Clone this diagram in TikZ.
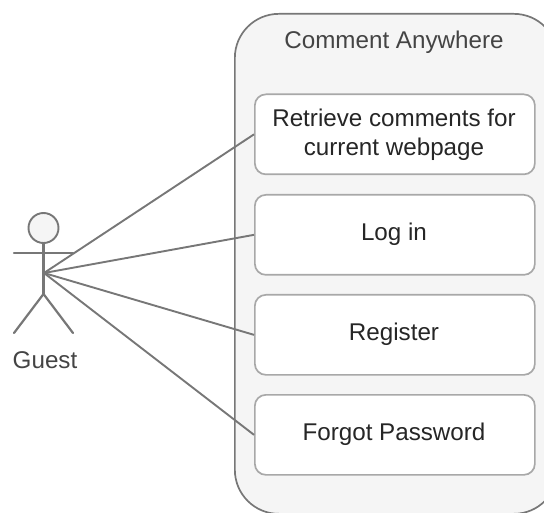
\documentclass[tikz,border=0pt]{standalone}
\usepackage{fontspec}
\setmainfont{Liberation Sans}
\definecolor{linegray}{HTML}{777777}
\definecolor{fillgray}{HTML}{F5F5F5}
\definecolor{softtext}{HTML}{444444}
\definecolor{boxline}{HTML}{A8A8A8}
\tikzset{
  container/.style={draw=linegray,line width=1.7pt,fill=fillgray,rounded corners=44pt,minimum width=323pt,minimum height=500pt,inner sep=0pt,anchor=north west},
  usecase/.style={draw=boxline,line width=1.7pt,fill=white,rounded corners=11pt,minimum width=280pt,minimum height=80pt,inner sep=0pt,anchor=north west},
  casetext/.style={align=center,font=\fontsize{24.2}{29}\selectfont,text=black!85,inner sep=0pt},
  title/.style={font=\fontsize{24.2}{28}\selectfont,text=softtext,inner sep=0pt},
  link/.style={draw=linegray,line width=1.9pt},
  stick/.style={draw=linegray,line width=2.2pt,line cap=round},
}
\begin{document}
\begin{tikzpicture}[x=1pt,y=-1pt]
\useasboundingbox (0,0) rectangle (544,513);
\clip (0,0) rectangle (544,513);
\node[container] (sys) at (234,13) {};
\node[title] (systitle) at (394,42) {Comment Anywhere};
\node[usecase] (retrieve) at (254,93.5) {};
\node[usecase] (login) at (254,194) {};
\node[usecase] (register) at (254,294) {};
\node[usecase] (forgot) at (254,394) {};
\node[casetext] (retrievetext) at (394,135) {Retrieve comments for\\current webpage};
\node[casetext] (logintext) at (394,234) {Log in};
\node[casetext] (registertext) at (394,334) {Register};
\node[casetext] (forgottext) at (394,434) {Forgot Password};
% actor
\node[circle,draw=linegray,line width=1.9pt,fill=fillgray,minimum size=30pt,inner sep=0pt] (head) at (43.5,228) {};
\coordinate (handl) at (14,253);
\coordinate (handr) at (73,253);
\coordinate (hip) at (43.5,294);
\coordinate (footl) at (14,333);
\coordinate (footr) at (73,333);
\coordinate (hub) at (44,273);
\draw[stick] (head.south) -- (hip);
\draw[stick] (handl) -- (handr);
\draw[stick] (footl) -- (hip) -- (footr);
\node[title] (guest) at (45,360) {Guest};
\draw[link] (hub) -- (retrieve.west);
\draw[link] (hub) -- (login.west);
\draw[link] (hub) -- (register.west);
\draw[link] (hub) -- (forgot.west);
\end{tikzpicture}
\end{document}
